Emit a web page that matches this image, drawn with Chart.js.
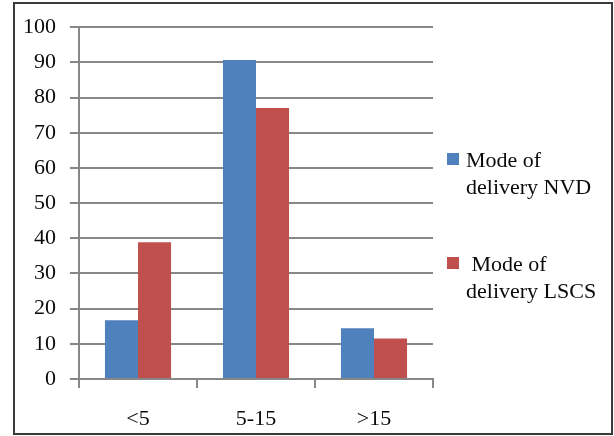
<!DOCTYPE html>
<html>
<head>
<meta charset="utf-8">
<script src="https://cdn.jsdelivr.net/npm/chart.js@4/dist/chart.umd.min.js"></script>
<style>
  html, body { margin: 0; padding: 0; background: #fff; }
  canvas { display: block; }
</style>
</head>
<body>
<canvas id="c" width="614" height="436"></canvas>
<script>
// Age groups (years) on the x axis
const categories = ['<5', '5-15', '>15'];
// Percentage per mode of delivery
const nvdValues = [16.7, 90.7, 14.4];
const lscsValues = [38.9, 77.0, 11.5];
// Series names, split over two lines for the side legend
const nvdLabel = ['Mode of', 'delivery NVD'];
const lscsLabel = [' Mode of', 'delivery LSCS'];
// Value axis ticks
const yTicks = [0, 10, 20, 30, 40, 50, 60, 70, 80, 90, 100];

const FONT = '"Liberation Serif", "Times New Roman", serif';
const GRID = '#878787';

// Outer frame around the whole figure
const framePlugin = {
  id: 'frame',
  afterDraw(chart) {
    const ctx = chart.ctx;
    ctx.save();
    ctx.strokeStyle = '#3a3a3a';
    ctx.lineWidth = 2;
    ctx.strokeRect(14, 3, 598, 431);
    ctx.restore();
  }
};

// Legend on the right with two-line labels
const sideLegend = {
  id: 'sideLegend',
  afterDraw(chart) {
    const ctx = chart.ctx;
    const slots = [153, 257];
    ctx.save();
    ctx.font = '22px ' + FONT;
    ctx.textBaseline = 'alphabetic';
    chart.data.datasets.forEach((ds, i) => {
      const top = slots[i];
      ctx.fillStyle = ds.backgroundColor;
      ctx.fillRect(447, top, 12, 12);
      ctx.fillStyle = '#0a0a0a';
      ds.label.forEach((line, j) => {
        ctx.fillText(line, 466, top + 14 + j * 27);
      });
    });
    ctx.restore();
  }
};

new Chart(document.getElementById('c'), {
  type: 'bar',
  data: {
    labels: categories,
    datasets: [
      { label: nvdLabel, data: nvdValues, backgroundColor: '#4F81BD', borderWidth: 0 },
      { label: lscsLabel, data: lscsValues, backgroundColor: '#C0504D', borderWidth: 0 }
    ]
  },
  options: {
    responsive: false,
    animation: false,
    layout: { padding: { left: 0, top: 27, right: 181, bottom: 0 } },
    plugins: {
      legend: { display: false },
      tooltip: { enabled: false }
    },
    datasets: {
      bar: { barPercentage: 1.0, categoryPercentage: 0.56 }
    },
    scales: {
      x: {
        grid: {
          offset: true,
          drawOnChartArea: false,
          drawTicks: true,
          tickLength: 9,
          color: GRID,
          lineWidth: 2
        },
        border: { display: true, color: GRID, width: 2 },
        ticks: {
          color: '#0a0a0a',
          font: { family: FONT, size: 22 },
          padding: 18,
          maxRotation: 0
        },
        afterFit(scale) { scale.height = 57; }
      },
      y: {
        min: 0,
        max: 100,
        afterBuildTicks(scale) { scale.ticks = yTicks.map(v => ({ value: v })); },
        grid: {
          color: GRID,
          lineWidth: 2,
          drawTicks: true,
          tickLength: 9
        },
        border: { display: true, color: GRID, width: 2 },
        ticks: {
          color: '#0a0a0a',
          font: { family: FONT, size: 22 },
          padding: 14
        },
        afterFit(scale) { scale.width = 79; }
      }
    }
  },
  plugins: [framePlugin, sideLegend]
});
</script>
</body>
</html>
